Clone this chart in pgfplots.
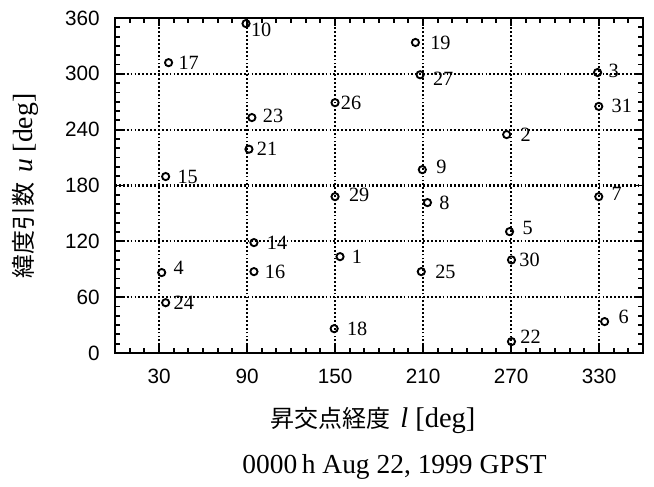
\documentclass[border=0pt]{standalone}
\usepackage{fontspec}
\setmainfont{Liberation Serif}
\setsansfont{Liberation Sans}
\newfontfamily\cjk{Noto Sans CJK JP}
\usepackage{pgfplots}
\usepackage{pgfplotstable}
\pgfplotsset{compat=1.18}
\pgfplotstableread{
lab x y dx dy
1 153.4 103.5 7.3 0
2 267 234.7 8.7 0
3 329 301.4 6.7 1.3
4 31.8 86.4 7.3 3.3
5 269 130.4 8 2.7
6 333.8 33.7 8.7 3.3
7 329.8 168 8 2
8 213 161.6 7.3 0
9 209.5 197 8.7 2
10 89.3 354 2.7 -4
14 94.7 118.6 8 0
15 34.5 189.6 7.3 0
16 94.7 87.4 6.7 0
17 36.5 312 6 0
18 149.4 26.1 8 0
19 204.8 333.7 9.3 0
21 91.3 219 4.7 0
22 270.3 12.2 5.3 3.3
23 93.3 253 6.7 1.3
24 34.5 54 4.7 0
25 208.8 87.4 8.7 0
26 150 269 3.3 0
27 208 299 8 -2.7
29 150 168 8.7 1.3
30 270.3 100 4.7 0
31 329.8 265 8 0
}\sats
\begin{document}
\begin{tikzpicture}
\begin{axis}[
  scale only axis,
  width=352pt, height=223.3pt,
  xmin=0, xmax=360, ymin=0, ymax=360,
  xtick={30,90,...,330},
  ytick={0,60,...,360},
  minor xtick={0,10,...,360},
  minor ytick={0,10,...,360},
  tick align=inside,
  major tick length=5pt,
  minor tick length=3.5pt,
  every tick/.style={black, line width=1.2pt},
  axis line style={line width=1.9pt},
  grid=major,
  major grid style={black, line width=1.4pt, dash pattern=on 1.2pt off 1.4pt},
  /pgf/number format/assume math mode=true,
  ticklabel style={font=\sffamily\fontsize{13.8}{14}\selectfont, inner sep=0pt},
  xticklabel style={anchor=center, yshift=-15.3pt},
  yticklabel style={anchor=east, xshift=-10pt},
  clip=false,
]
\addplot[
  only marks, mark=o, mark size=2.4pt,
  mark options={line width=1.25pt, black},
  point meta=explicit symbolic,
  visualization depends on={\thisrow{dx} \as \mydx},
  visualization depends on={\thisrow{dy} \as \mydy},
  nodes near coords,
  every node near coord/.style={anchor=west, inner sep=0pt,
     xshift=\mydx pt, yshift=\mydy pt, font=\fontsize{13.5}{14}\selectfont, black},
] table[x=x, y=y, meta=lab] {\sats};
\coordinate (O) at (rel axis cs:0,0);
\end{axis}
\node[inner sep=0pt] at ([shift={(172pt,-44.7pt)}]O)
  {{\cjk\fontsize{16}{16}\selectfont 昇交点経度}\,{\fontsize{19}{20}\selectfont\ \textit{l} [deg]}};
\node[inner sep=0pt, anchor=west] at ([shift={(84.7pt,-76pt)}]O)
  {\fontsize{18.3}{20}\selectfont 0000\,h Aug 22, 1999 GPST};
\node[inner sep=0pt, rotate=90] at ([shift={(-60pt,111.3pt)}]O)
  {{\cjk\fontsize{16}{16}\selectfont 緯度引数}\,{\fontsize{18.5}{20}\selectfont\ \textit{u} [deg]}};
\pgfresetboundingbox
\path[use as bounding box] ([shift={(-76.7pt,-88.7pt)}]O) rectangle ([shift={(359.3pt,235.3pt)}]O);
\end{tikzpicture}
\end{document}
